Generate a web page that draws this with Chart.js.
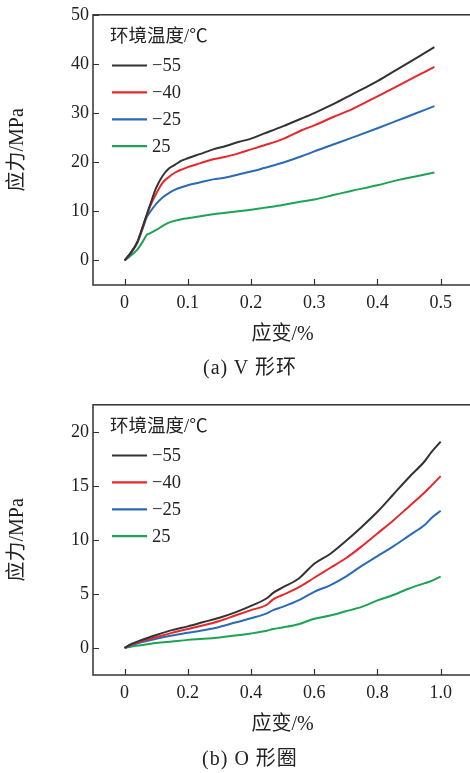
<!DOCTYPE html>
<html><head><meta charset="utf-8">
<script src="https://cdn.jsdelivr.net/npm/chart.js@4.4.1/dist/chart.umd.min.js"></script>
<style>
html,body{margin:0;padding:0;overflow:hidden;background:#fff;width:470px;height:773px;}
.box{position:absolute;left:0;width:480px;height:380px;}
.cap{position:absolute;left:0;width:500px;text-align:center;font:20px 'Liberation Serif','Noto Sans CJK SC',serif;color:#222;line-height:24px;letter-spacing:1px;}
</style></head><body>
<div class="box" style="top:0"><canvas id="ca" width="480" height="380"></canvas></div>
<div class="cap" style="top:355px">(a) V 形环</div>
<div class="box" style="top:390px"><canvas id="cb" width="480" height="380"></canvas></div>
<div class="cap" style="top:746px">(b) O 形圈</div>
<script>
const legendTitle = '环境温度/℃';
const seriesLabels = ['−55', '−40', '−25', '25'];
const seriesColors = ['#333333', '#e8262b', '#2a6ab8', '#1da353'];
const xTitle = '应变/%';
const yTitle = '应力/MPa';

// (a) V-ring
const strainA = [0, 0.01, 0.02, 0.03, 0.035, 0.04, 0.05, 0.06, 0.07, 0.08, 0.09, 0.1, 0.12, 0.14, 0.16, 0.18, 0.2, 0.22, 0.25, 0.28, 0.3, 0.33, 0.36, 0.4, 0.43, 0.46, 0.49];
const stressA_m55 = [0, 1.6, 3.7, 7.4, 9.3, 11.2, 14.8, 17.2, 18.7, 19.5, 20.3, 20.8, 21.7, 22.6, 23.3, 24.1, 24.8, 25.8, 27.3, 28.9, 30.0, 31.8, 33.8, 36.5, 38.8, 41.1, 43.4];
const stressA_m40 = [0, 1.6, 3.7, 7.3, 9.2, 10.9, 13.6, 15.8, 17.0, 17.9, 18.5, 19.0, 19.8, 20.6, 21.1, 21.8, 22.6, 23.4, 24.7, 26.5, 27.5, 29.2, 30.8, 33.4, 35.4, 37.4, 39.4];
const stressA_m25 = [0, 1.5, 3.6, 7.0, 8.8, 9.8, 11.5, 12.8, 13.7, 14.4, 14.9, 15.3, 15.9, 16.5, 16.9, 17.5, 18.1, 18.8, 19.9, 21.2, 22.2, 23.6, 25.0, 26.9, 28.4, 29.9, 31.4];
const stressA_p25 = [0, 1.0, 2.2, 4.1, 5.2, 5.5, 6.2, 7.0, 7.7, 8.1, 8.4, 8.6, 9.0, 9.4, 9.7, 10.0, 10.3, 10.7, 11.3, 12.0, 12.4, 13.3, 14.2, 15.3, 16.3, 17.1, 17.9];
const xTicksA = [0, 0.1, 0.2, 0.3, 0.4, 0.5];
const xTickLabelsA = ['0', '0.1', '0.2', '0.3', '0.4', '0.5'];
const yTicksA = [0, 10, 20, 30, 40, 50];

// (b) O-ring
const strainB = [0, 0.02, 0.05, 0.1, 0.15, 0.2, 0.25, 0.3, 0.35, 0.4, 0.45, 0.47, 0.5, 0.55, 0.6, 0.65, 0.7, 0.75, 0.8, 0.85, 0.9, 0.95, 0.97, 1.0];
const stressB_m55 = [0, 0.35, 0.7, 1.2, 1.65, 2.0, 2.4, 2.8, 3.3, 3.9, 4.6, 5.1, 5.6, 6.4, 7.8, 8.7, 9.9, 11.2, 12.6, 14.2, 15.8, 17.3, 18.1, 19.1];
const stressB_m40 = [0, 0.3, 0.6, 1.0, 1.4, 1.75, 2.1, 2.5, 3.0, 3.5, 4.0, 4.5, 4.9, 5.6, 6.5, 7.4, 8.3, 9.4, 10.6, 11.8, 13.1, 14.4, 15.0, 15.9];
const stressB_m25 = [0, 0.25, 0.5, 0.85, 1.15, 1.4, 1.65, 1.95, 2.35, 2.75, 3.2, 3.5, 3.8, 4.4, 5.2, 5.8, 6.6, 7.6, 8.5, 9.4, 10.4, 11.4, 12.0, 12.7];
const stressB_p25 = [0, 0.12, 0.25, 0.45, 0.6, 0.75, 0.85, 0.98, 1.15, 1.35, 1.6, 1.75, 1.9, 2.2, 2.7, 3.0, 3.4, 3.8, 4.4, 4.9, 5.5, 6.0, 6.2, 6.6];
const xTicksB = [0, 0.2, 0.4, 0.6, 0.8, 1.0];
const xTickLabelsB = ['0', '0.2', '0.4', '0.6', '0.8', '1.0'];
const yTicksB = [0, 5, 10, 15, 20];

const FAM = "'Liberation Serif', 'Noto Sans CJK SC', serif";
const TXT = '#222222';

const framePlugin = {
  id: 'frameTicks',
  afterDraw(chart) {
    const ctx = chart.ctx;
    const {left, top, right, bottom} = chart.chartArea;
    ctx.save();
    ctx.strokeStyle = '#333333';
    ctx.lineWidth = 1.5;
    ctx.strokeRect(left, top, right - left, bottom - top);
    ctx.lineWidth = 1.2;
    const xs = chart.scales.x, ys = chart.scales.y;
    ctx.beginPath();
    xs.ticks.forEach(t => {
      const px = Math.round(xs.getPixelForValue(t.value)) + 0.5;
      ctx.moveTo(px, bottom); ctx.lineTo(px, bottom - 6);
    });
    ys.ticks.forEach(t => {
      const py = Math.round(ys.getPixelForValue(t.value)) + 0.5;
      ctx.moveTo(left, py); ctx.lineTo(left + 6, py);
    });
    ctx.stroke();
    ctx.restore();
  }
};

const legendPlugin = {
  id: 'innerLegend',
  afterDraw(chart) {
    const ctx = chart.ctx;
    const {left, top} = chart.chartArea;
    ctx.save();
    ctx.fillStyle = TXT;
    ctx.textAlign = 'left';
    ctx.textBaseline = 'middle';
    ctx.font = '18.5px ' + FAM;
    ctx.fillText(legendTitle, left + 17, top + 22);
    ctx.font = '18.5px ' + FAM;
    chart.data.datasets.forEach((ds, i) => {
      const y = top + 50.7 + i * 26.9;
      ctx.strokeStyle = ds.borderColor;
      ctx.lineWidth = 2.2;
      ctx.beginPath();
      ctx.moveTo(left + 19, y); ctx.lineTo(left + 54, y);
      ctx.stroke();
      ctx.fillStyle = TXT;
      ctx.fillText(ds.label, left + 59, y + 1);
    });
    ctx.restore();
  }
};

function makeChart(id, strain, series, xMin, xMax, yMin, yMax, xTicks, xLabels, yTicks, padTop) {
  const datasets = series.map((vals, i) => ({
    label: seriesLabels[i],
    data: strain.map((x, j) => ({x: x, y: vals[j]})),
    borderColor: seriesColors[i],
    borderWidth: 2,
    pointRadius: 0,
    fill: false,
    cubicInterpolationMode: 'monotone'
  }));
  return new Chart(document.getElementById(id), {
    type: 'line',
    data: {datasets},
    options: {
      responsive: false,
      animation: false,
      devicePixelRatio: 1,
      layout: {padding: {top: padTop, right: 7.7, bottom: 0, left: 0}},
      plugins: {legend: {display: false}, tooltip: {enabled: false}},
      scales: {
        x: {
          type: 'linear', min: xMin, max: xMax,
          grid: {display: false, drawTicks: false},
          border: {display: false},
          afterBuildTicks: s => { s.ticks = xTicks.map(v => ({value: v})); },
          afterFit: s => { s.height = 95; },
          ticks: {padding: 7, autoSkip: false, maxRotation: 0, color: TXT,
                  font: {family: FAM, size: 18},
                  callback: (v, i) => xLabels[i]},
          title: {display: true, text: xTitle, color: TXT,
                  font: {family: FAM, size: 20}, padding: {top: 0, bottom: 33}}
        },
        y: {
          type: 'linear', min: yMin, max: yMax,
          grid: {display: false, drawTicks: false},
          border: {display: false},
          afterBuildTicks: s => { s.ticks = yTicks.map(v => ({value: v})); },
          afterFit: s => { s.width = 93; },
          ticks: {padding: 4, color: TXT, font: {family: FAM, size: 18},
                  callback: v => String(v)},
          title: {display: true, text: yTitle, color: TXT,
                  font: {family: FAM, size: 20}, padding: {top: 6, bottom: 0}}
        }
      }
    },
    plugins: [framePlugin, legendPlugin]
  });
}

makeChart('ca', strainA, [stressA_m55, stressA_m40, stressA_m25, stressA_p25],
  -0.05, 0.55, -5, 50, xTicksA, xTickLabelsA, yTicksA, 11);
makeChart('cb', strainB, [stressB_m55, stressB_m40, stressB_m25, stressB_p25],
  -0.1, 1.1, -2.5, 22.5, xTicksB, xTickLabelsB, yTicksB, 10.7);
</script>
</body></html>
